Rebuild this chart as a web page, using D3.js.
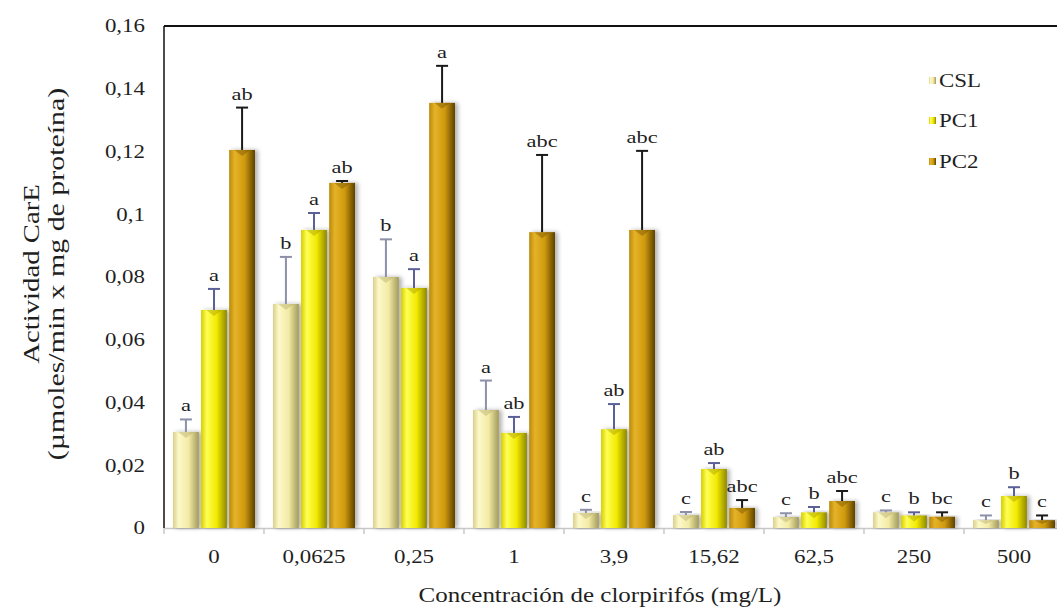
<!DOCTYPE html>
<html>
<head>
<meta charset="utf-8">
<script src="https://cdnjs.cloudflare.com/ajax/libs/d3/7.8.5/d3.min.js"></script>
<style>
  body { margin: 0; background: #fff; }
  text { font-family: "Liberation Serif", "Times New Roman", serif; fill: #1f1f1f; }
</style>
</head>
<body>
<div id="chart"></div>
<script>
const categories = ["0", "0,0625", "0,25", "1", "3,9", "15,62", "62,5", "250", "500"];
const seriesNames = ["CSL", "PC1", "PC2"];

const cslMean = [0.0306, 0.0714, 0.080, 0.0376, 0.0048, 0.0041, 0.0035, 0.0050, 0.0025];
const cslErr  = [0.0040, 0.0150, 0.0120, 0.0094, 0.0010, 0.0010, 0.0012, 0.0006, 0.0015];
const pc1Mean = [0.0695, 0.0950, 0.0765, 0.0303, 0.0315, 0.0188, 0.0050, 0.0040, 0.0102];
const pc1Err  = [0.0067, 0.0054, 0.0060, 0.0051, 0.0080, 0.0019, 0.0017, 0.0010, 0.0028];
const pc2Mean = [0.1205, 0.1100, 0.1355, 0.0943, 0.0950, 0.0064, 0.0086, 0.0036, 0.0025];
const pc2Err  = [0.0135, 0.0006, 0.0118, 0.0246, 0.0252, 0.0025, 0.0032, 0.0014, 0.0015];

const cslLetters = ["a", "b", "b", "a", "c", "c", "c", "c", "c"];
const pc1Letters = ["a", "a", "a", "ab", "ab", "ab", "b", "b", "b"];
const pc2Letters = ["ab", "ab", "a", "abc", "abc", "abc", "abc", "bc", "c"];

const yTicks = [0, 0.02, 0.04, 0.06, 0.08, 0.1, 0.12, 0.14, 0.16];

const means   = [cslMean, pc1Mean, pc2Mean];
const errs    = [cslErr, pc1Err, pc2Err];
const letters = [cslLetters, pc1Letters, pc2Letters];

const data = [];
categories.forEach((c, i) => {
  seriesNames.forEach((s, j) => {
    data.push({ cat: c, series: s, value: means[j][i], err: errs[j][i], label: letters[j][i] });
  });
});

// colours: [edge-left, light, mid, dark edge]
const palette = {
  CSL: ["#d8d08a", "#fdf8c8", "#f3eba6", "#a29a5a"],
  PC1: ["#d6cc00", "#ffff55", "#f2ea00", "#8f8800"],
  PC2: ["#b88a08", "#e6b22a", "#cf9a0c", "#5e4200"]
};
const errColor = { CSL: "#8c90a8", PC1: "#5b6098", PC2: "#1a1a1a" };

const W = 1057, H = 610;
const margin = { top: 26, left: 164 };
const width = 900, height = 502;

// the reference font is drawn wider than Times; stretch text along its direction
function widen(sel, s) {
  sel.each(function() {
    const el = d3.select(this);
    const tx = +el.attr("x") || 0, ty = +el.attr("y") || 0;
    const prev = el.attr("transform") || "";
    el.attr("transform", `${prev} translate(${tx},${ty}) scale(${s},1) translate(${-tx},${-ty})`);
  });
}

const svg = d3.select("#chart").append("svg")
  .attr("width", W).attr("height", H);

const defs = svg.append("defs");
seriesNames.forEach(s => {
  const g = defs.append("linearGradient").attr("id", "grad-" + s)
    .attr("x1", "0").attr("x2", "1").attr("y1", "0").attr("y2", "0");
  const p = palette[s];
  g.append("stop").attr("offset", "0%").attr("stop-color", p[0]);
  g.append("stop").attr("offset", "22%").attr("stop-color", p[1]);
  g.append("stop").attr("offset", "60%").attr("stop-color", p[2]);
  g.append("stop").attr("offset", "100%").attr("stop-color", p[3]);
});
const f = defs.append("filter").attr("id", "shadow")
  .attr("x", "-20%").attr("y", "-10%").attr("width", "160%").attr("height", "120%");
f.append("feDropShadow").attr("dx", 3).attr("dy", 0).attr("stdDeviation", 2)
  .attr("flood-color", "#000").attr("flood-opacity", 0.3);

const g = svg.append("g").attr("transform", `translate(${margin.left},${margin.top})`);

// Scales
const x0 = d3.scaleBand().domain(categories).range([0, width])
  .paddingInner(0.18).paddingOuter(0.09);
const x1 = d3.scaleBand().domain(seriesNames).range([0, x0.bandwidth()])
  .paddingInner(0.08);
const y = d3.scaleLinear().domain([0, 0.16]).range([height, 0]);

const fmt = d => String(+d.toFixed(2)).replace(".", ",");

// Y axis
const yAxis = g.append("g")
  .call(d3.axisLeft(y).tickValues(yTicks).tickFormat(fmt).tickSize(0).tickPadding(19));
yAxis.select(".domain").remove();
yAxis.selectAll("text").style("font-size", "18.5px").attr("fill", "#1f1f1f")
  .call(widen, 1.24);

// X axis
const xAxis = g.append("g").attr("transform", `translate(0,${height})`)
  .call(d3.axisBottom(x0).tickSize(0).tickPadding(22));
xAxis.select(".domain").attr("stroke", "#c8c8c8").attr("stroke-width", 1.5);
xAxis.selectAll("text").style("font-size", "18.5px").attr("fill", "#1f1f1f")
  .call(widen, 1.24);

// group separator ticks
const step = x0.step();
g.append("g").selectAll("line")
  .data(categories.concat([null]))
  .join("line")
  .attr("x1", (d, i) => i * step).attr("x2", (d, i) => i * step)
  .attr("y1", height).attr("y2", height + 6)
  .attr("stroke", "#c8c8c8").attr("stroke-width", 1.5);

// plot frame (top and left)
g.append("line").attr("x1", 0).attr("x2", width).attr("y1", 0).attr("y2", 0)
  .attr("stroke", "#111").attr("stroke-width", 2);
g.append("line").attr("x1", 0).attr("x2", 0).attr("y1", 0).attr("y2", height)
  .attr("stroke", "#111").attr("stroke-width", 1.5);

// Bars
const bars = g.append("g").selectAll("g.bar")
  .data(data)
  .join("g")
  .attr("class", "bar")
  .attr("transform", d => `translate(${x0(d.cat) + x1(d.series)},0)`);

bars.append("rect")
  .attr("x", 0)
  .attr("y", d => y(d.value))
  .attr("width", x1.bandwidth())
  .attr("height", d => height - y(d.value))
  .attr("fill", d => `url(#grad-${d.series})`)
  .attr("filter", "url(#shadow)");

// pyramid tip on top of each bar
bars.append("path")
  .attr("d", d => {
    const w = x1.bandwidth(), t = y(d.value), h = Math.min(6, (height - t) / 2);
    return `M${w * 0.2},${t} L${w / 2},${t + h} L${w * 0.8},${t} Z`;
  })
  .attr("fill", d => palette[d.series][3])
  .attr("opacity", 0.35);

// Error bars
bars.append("line")
  .attr("x1", x1.bandwidth() / 2).attr("x2", x1.bandwidth() / 2)
  .attr("y1", d => y(d.value)).attr("y2", d => y(d.value + d.err))
  .attr("stroke", d => errColor[d.series]).attr("stroke-width", 2);
bars.append("line")
  .attr("x1", x1.bandwidth() / 2 - 6).attr("x2", x1.bandwidth() / 2 + 6)
  .attr("y1", d => y(d.value + d.err)).attr("y2", d => y(d.value + d.err))
  .attr("stroke", d => errColor[d.series]).attr("stroke-width", 2);

// Letters
bars.append("text")
  .attr("x", x1.bandwidth() / 2)
  .attr("y", d => y(d.value + d.err) - 8)
  .attr("text-anchor", "middle")
  .style("font-size", "17.5px")
  .text(d => d.label)
  .call(widen, 1.28);

// Legend
const legend = svg.append("g").attr("transform", "translate(929,0)");
const rowY = [81, 121, 162];
seriesNames.forEach((s, i) => {
  legend.append("rect")
    .attr("x", 0).attr("y", rowY[i] - 4).attr("width", 7).attr("height", 7)
    .attr("fill", `url(#grad-${s})`);
  legend.append("text")
    .attr("x", 10).attr("y", rowY[i] + 6.5)
    .style("font-size", "18.5px")
    .text(s)
    .call(widen, 1.24);
});

// Axis titles
svg.append("text")
  .attr("x", 600).attr("y", 602)
  .attr("text-anchor", "middle")
  .style("font-size", "21px")
  .text("Concentración de clorpirifós (mg/L)")
  .call(widen, 1.19);

svg.append("text")
  .attr("transform", "translate(0,274) rotate(-90)")
  .attr("text-anchor", "middle")
  .attr("x", 0).attr("y", 39)
  .style("font-size", "23px")
  .text("Actividad CarE")
  .call(widen, 1.25);
svg.append("text")
  .attr("transform", "translate(0,274) rotate(-90)")
  .attr("text-anchor", "middle")
  .attr("x", 0).attr("y", 64)
  .style("font-size", "23px")
  .text("(µmoles/min x mg de proteína)")
  .call(widen, 1.3);
</script>
</body>
</html>
